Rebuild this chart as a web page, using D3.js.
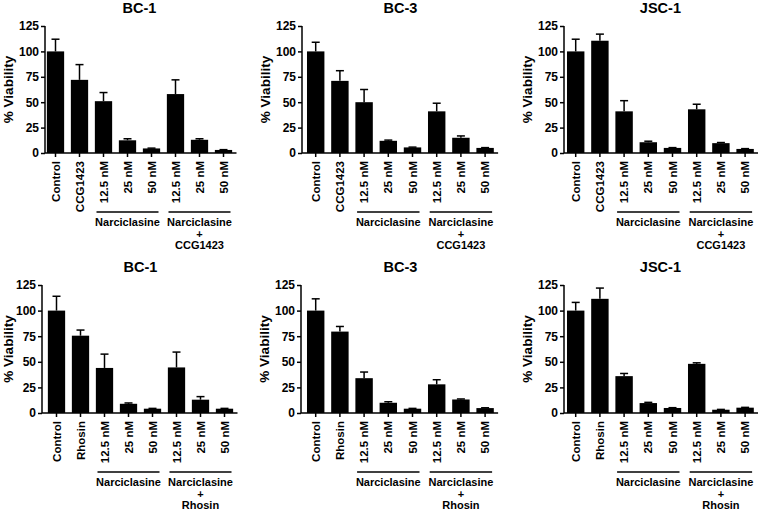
<!DOCTYPE html>
<html>
<head>
<meta charset="utf-8">
<script src="https://cdn.jsdelivr.net/npm/d3@7"></script>
<style>
  body { margin: 0; background: #fff; }
  svg { display: block; font-family: Arial, "Liberation Sans", sans-serif; font-weight: bold; }
</style>
</head>
<body>
<div id="chart"></div>
<script>
// cell lines, one per column
var cellLines = ["BC-1", "BC-3", "JSC-1"];
var yTicks = [0, 25, 50, 75, 100, 125];

// x labels for the two rows
var labelsCCG = ["Control", "CCG1423", "12.5 nM", "25 nM", "50 nM", "12.5 nM", "25 nM", "50 nM"];
var labelsRhosin = ["Control", "Rhosin", "12.5 nM", "25 nM", "50 nM", "12.5 nM", "25 nM", "50 nM"];
var groupLeft = ["Narciclasine"];
var groupRightCCG = ["Narciclasine", "+", "CCG1423"];
var groupRightRhosin = ["Narciclasine", "+", "Rhosin"];

// % viability (mean) and upper error
var meanCCG_BC1 = [100, 72, 51, 12.5, 4.5, 58, 13, 3];
var errCCG_BC1 = [12, 15, 8.5, 1.5, 0.3, 14, 1, 0.3];
var meanCCG_BC3 = [100, 71, 50, 12, 5.5, 41, 15, 5];
var errCCG_BC3 = [9, 10, 12.5, 0.7, 0.3, 8, 1.8, 0.3];
var meanCCG_JSC1 = [100, 110.5, 41, 10.6, 5, 43, 9.7, 4];
var errCCG_JSC1 = [12, 6.5, 10.5, 1, 0.3, 5, 0.6, 0.3];

var meanRhosin_BC1 = [100, 75.5, 44, 9, 4.2, 44.5, 13, 4.2];
var errRhosin_BC1 = [14, 5.5, 13.5, 0.8, 0.3, 15, 3, 0.3];
var meanRhosin_BC3 = [100, 79.5, 34, 10, 4.2, 28, 13.2, 4.8];
var errRhosin_BC3 = [11.5, 5, 6, 1, 0.3, 4.5, 0.5, 0.3];
var meanRhosin_JSC1 = [100, 111.5, 36, 9.7, 4.9, 48, 3.2, 5.2];
var errRhosin_JSC1 = [8, 10.5, 2.6, 0.7, 0.3, 1, 0.3, 0.3];

var width = 758, height = 510;

var svg = d3.select("#chart")
  .append("svg")
    .attr("width", width)
    .attr("height", height);

// panel layout: y axis x, first bar centre, bar step, zero / top of y axis
var panels = [
  {title: cellLines[0], axisX: 45, c0: 55.5, step: 24, y0: 153, y1: 26, labels: labelsCCG, group: groupRightCCG, mean: meanCCG_BC1, err: errCCG_BC1},
  {title: cellLines[1], axisX: 302, c0: 315.7, step: 24.2, y0: 153, y1: 26, labels: labelsCCG, group: groupRightCCG, mean: meanCCG_BC3, err: errCCG_BC3},
  {title: cellLines[2], axisX: 564, c0: 575.7, step: 24.2, y0: 153, y1: 26, labels: labelsCCG, group: groupRightCCG, mean: meanCCG_JSC1, err: errCCG_JSC1},
  {title: cellLines[0], axisX: 42, c0: 56.5, step: 24, y0: 413, y1: 285, labels: labelsRhosin, group: groupRightRhosin, mean: meanRhosin_BC1, err: errRhosin_BC1},
  {title: cellLines[1], axisX: 301, c0: 315.7, step: 24.2, y0: 413, y1: 285, labels: labelsRhosin, group: groupRightRhosin, mean: meanRhosin_BC3, err: errRhosin_BC3},
  {title: cellLines[2], axisX: 564, c0: 575.7, step: 24.2, y0: 413, y1: 285, labels: labelsRhosin, group: groupRightRhosin, mean: meanRhosin_JSC1, err: errRhosin_JSC1}
];

panels.forEach(function(p) { drawPanel(p); });

function drawPanel(p) {
  var n = p.labels.length;
  var idx = d3.range(n);
  var start = p.c0 - p.step / 2;

  var x = d3.scaleBand()
            .domain(idx)
            .range([start, start + p.step * n])
            .paddingInner(0.28)
            .paddingOuter(0.14);

  var y = d3.scaleLinear()
            .domain([0, 125])
            .range([p.y0, p.y1]);

  var g = svg.append("g");
  var cx = function(i) { return x(i) + x.bandwidth() / 2; };

  // title
  g.append("text")
    .attr("x", start + p.step * n / 2)
    .attr("y", p.y1 - 13)
    .attr("text-anchor", "middle")
    .style("font-size", "14.5px")
    .text(p.title);

  // y axis
  var yAxis = g.append("g")
    .attr("transform", "translate(" + p.axisX + ",0)")
    .call(d3.axisLeft(y).tickValues(yTicks).tickSize(4).tickPadding(2));
  yAxis.select(".domain").attr("stroke-width", 1.5).attr("d", "M0," + p.y0 + "V" + p.y1);
  yAxis.selectAll(".tick line").attr("stroke-width", 1.5);
  yAxis.selectAll(".tick text")
    .style("font-size", "12px")
    .style("font-weight", "bold")
    .style("font-family", "Arial, 'Liberation Sans', sans-serif");

  // y label (kept inside the left edge)
  g.append("text")
    .attr("transform", "translate(" + Math.max(p.axisX - 37, 8) + "," + ((p.y0 + p.y1) / 2) + ") rotate(-90)")
    .attr("dy", "0.35em")
    .attr("text-anchor", "middle")
    .style("font-size", "13.5px")
    .text("% Viability");

  // bars
  g.selectAll(".bar")
    .data(idx)
    .enter()
    .append("rect")
      .attr("x", function(i) { return x(i); })
      .attr("y", function(i) { return y(p.mean[i]); })
      .attr("width", x.bandwidth())
      .attr("height", function(i) { return p.y0 - y(p.mean[i]); })
      .attr("fill", "#000");

  // upper error bars
  var eb = g.selectAll(".err")
    .data(idx)
    .enter()
    .append("g");
  eb.append("line")
    .attr("x1", cx).attr("x2", cx)
    .attr("y1", function(i) { return y(p.mean[i]); })
    .attr("y2", function(i) { return y(p.mean[i] + p.err[i]); })
    .attr("stroke", "#000").attr("stroke-width", 1.5);
  eb.append("line")
    .attr("x1", function(i) { return cx(i) - 4; })
    .attr("x2", function(i) { return cx(i) + 4; })
    .attr("y1", function(i) { return y(p.mean[i] + p.err[i]); })
    .attr("y2", function(i) { return y(p.mean[i] + p.err[i]); })
    .attr("stroke", "#000").attr("stroke-width", 1.5);

  // x axis line and ticks
  g.append("line")
    .attr("x1", p.axisX).attr("x2", cx(n - 1) + 13)
    .attr("y1", p.y0).attr("y2", p.y0)
    .attr("stroke", "#000").attr("stroke-width", 1.5);
  g.selectAll(".xtick")
    .data(idx)
    .enter()
    .append("line")
      .attr("x1", cx).attr("x2", cx)
      .attr("y1", p.y0).attr("y2", p.y0 + 4)
      .attr("stroke", "#000").attr("stroke-width", 1.5);

  // rotated category labels
  g.selectAll(".xlabel")
    .data(idx)
    .enter()
    .append("text")
      .attr("transform", function(i) { return "translate(" + cx(i) + "," + (p.y0 + 8) + ") rotate(-90)"; })
      .attr("dy", "0.36em")
      .attr("text-anchor", "end")
      .style("font-size", "11.5px")
      .text(function(i) { return p.labels[i]; });

  // group brackets
  var groups = [{from: 2, to: 4, text: groupLeft}, {from: 5, to: 7, text: p.group}];
  groups.forEach(function(gr) {
    var a = cx(gr.from) - 7, b = cx(gr.to) + 7;
    g.append("line")
      .attr("x1", a).attr("x2", b)
      .attr("y1", p.y0 + 59).attr("y2", p.y0 + 59)
      .attr("stroke", "#000").attr("stroke-width", 1.3);
    gr.text.forEach(function(t, k) {
      g.append("text")
        .attr("x", (a + b) / 2)
        .attr("y", p.y0 + 73 + k * 11.5)
        .attr("text-anchor", "middle")
        .style("font-size", "11px")
        .text(t);
    });
  });
}
</script>
</body>
</html>
